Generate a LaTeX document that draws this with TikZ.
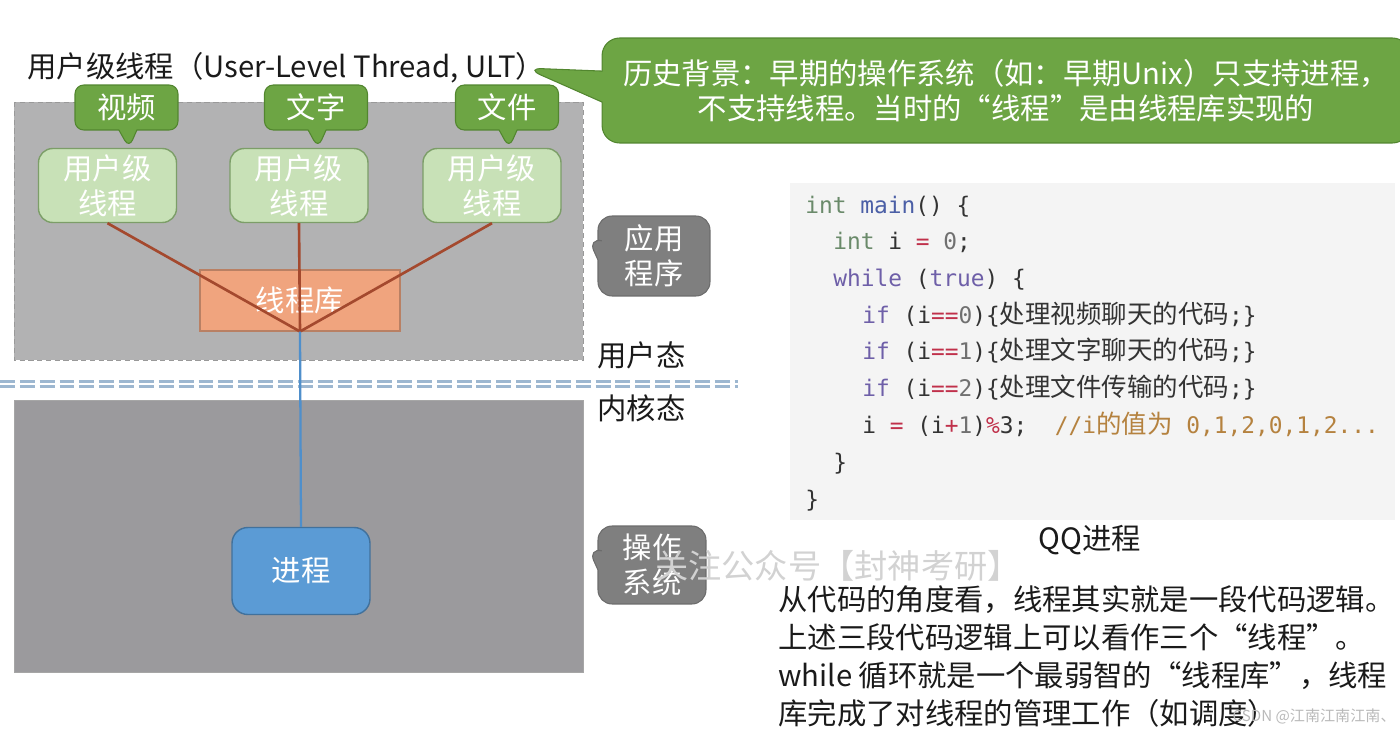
\documentclass[tikz,border=0pt]{standalone}
\usepackage{fontspec}
\setmainfont{Noto Sans CJK SC}
\setmonofont{DejaVu Sans Mono}
\newfontfamily\cjk{Noto Sans CJK SC}
\usepackage{xcolor}
\usetikzlibrary{shapes.callouts}

\definecolor{labeltext}{HTML}{1A1A1A}
\definecolor{userfill}{HTML}{B2B2B3}
\definecolor{kernfill}{HTML}{9B9A9D}
\definecolor{threadfill}{HTML}{C8E1B7}
\definecolor{threadedge}{HTML}{7C9E68}
\definecolor{taggreen}{HTML}{6DA544}
\definecolor{tagedge}{HTML}{52862F}
\definecolor{libfill}{HTML}{F0A47E}
\definecolor{libedge}{HTML}{B98064}
\definecolor{libline}{HTML}{A4492E}
\definecolor{procfill}{HTML}{5B9BD5}
\definecolor{procedge}{HTML}{41719C}
\definecolor{procline}{HTML}{4F8FCB}
\definecolor{bubblegray}{HTML}{7F7F7F}
\definecolor{bubbleedge}{HTML}{6C6C6C}
\definecolor{divblue}{HTML}{9DB7D0}
\definecolor{codebg}{HTML}{F4F4F4}
\definecolor{codetext}{HTML}{333333}
\definecolor{codetype}{HTML}{6A8A6A}
\definecolor{codefun}{HTML}{4B5FA6}
\definecolor{codekw}{HTML}{6E5FA8}
\definecolor{codeop}{HTML}{C0304A}
\definecolor{codenum}{HTML}{707070}
\definecolor{codecom}{HTML}{B5823F}

\newcommand\lblsize{\fontsize{16.7pt}{20pt}\selectfont}
\newcommand\parasize{\fontsize{16.7pt}{21.6pt}\selectfont}
\newcommand\codesize{\fontsize{13pt}{16pt}\selectfont}
\newcommand\cdtype[1]{\textcolor{codetype}{#1}}
\newcommand\cdfun[1]{\textcolor{codefun}{#1}}
\newcommand\cdkw[1]{\textcolor{codekw}{#1}}
\newcommand\cdop[1]{\textcolor{codeop}{#1}}
\newcommand\cdnum[1]{\textcolor{codenum}{#1}}
\newcommand\cdcom[1]{\textcolor{codecom}{#1}}
\newcommand\cdzh[1]{{\cjk\fontsize{14.5pt}{16pt}\selectfont #1}}

\begin{document}
\begin{tikzpicture}[x=0.02cm,y=-0.02cm,
  lbl/.style={font=\lblsize,text=labeltext,inner sep=0pt},
  threadbox/.style={draw=threadedge,fill=threadfill,line width=0.8pt,rounded corners=8pt,minimum width=2.76cm,minimum height=1.42cm,text=white,align=center,font=\lblsize},
  tagbubble/.style={rectangle callout,callout pointer width=0.36cm,fill=taggreen,draw=tagedge,line width=0.6pt,rounded corners=5pt,minimum width=2.06cm,minimum height=0.9cm,text=white,font=\lblsize},
  graybubble/.style={rectangle callout,callout pointer width=0.4cm,fill=bubblegray,draw=bubbleedge,line width=0.6pt,rounded corners=8pt,text=white,align=center,font=\lblsize},
  libbox/.style={draw=libedge,fill=libfill,line width=0.6pt,minimum width=4cm,minimum height=1.22cm,text=white,font=\lblsize},
  procbox/.style={draw=procedge,fill=procfill,line width=0.8pt,rounded corners=9pt,minimum width=2.76cm,minimum height=1.74cm,text=white,font=\lblsize},
  libwire/.style={draw=libline,line width=1.5pt},
  procwire/.style={draw=procline,line width=1.3pt},
  divline/.style={draw=divblue,line width=1.2pt,dash pattern=on 8.5pt off 2.8pt},
  codeline/.style={anchor=west,inner sep=0pt,font=\codesize\ttfamily,text=codetext,text height=10pt,text depth=3pt}]
  \useasboundingbox (0,0) rectangle (1400,730);
  \clip (0,0) rectangle (1400,730);

  \fill[userfill,draw=gray!80,densely dashed,line width=0.3pt] (14,102) rectangle (583,360);
  \fill[kernfill,draw=gray!70,line width=0.3pt] (14,400) rectangle (583,672);
  \draw[divline] (0,381.5) -- (738,381.5);
  \draw[divline] (0,386.5) -- (738,386.5);

  \node[lbl,anchor=west] (title) at (27,68) {用户级线程（User-Level Thread, ULT）};

  \node[threadbox] (t1) at (107.5,185.5) {用户级\\线程};
  \node[threadbox] (t2) at (299,185.5) {用户级\\线程};
  \node[threadbox] (t3) at (492,185.5) {用户级\\线程};
  \node[tagbubble,callout absolute pointer={(129,148)}] (tag1) at (126.5,107.5) {视频};
  \node[tagbubble,callout absolute pointer={(318,148)}] (tag2) at (316,107.5) {文字};
  \node[tagbubble,callout absolute pointer={(509,148)}] (tag3) at (507,107.5) {文件};

  \node[libbox] (lib) at (300,300.5) {线程库};
  \node[procbox] (proc) at (301,571) {进程};
  \coordinate (hub) at (lib.south);
  \draw[libwire] (t1.south) -- (hub);
  \draw[libwire] (t2.south) -- (hub);
  \draw[libwire] (t3.south) -- (hub);
  \draw[procwire] (hub) -- (proc.north);

  \node[graybubble,minimum width=2.24cm,minimum height=1.6cm,callout absolute pointer={(588,238)}] (app) at (654,256) {应用\\程序};
  \node[graybubble,minimum width=2.16cm,minimum height=1.56cm,callout absolute pointer={(588,548)}] (os) at (652,565) {操作\\系统};
  \node[lbl,anchor=west] (ustate) at (597,355) {用户态};
  \node[lbl,anchor=west] (kstate) at (597,408) {内核态};

  \node[rectangle callout,callout pointer width=0.62cm,fill=taggreen,draw=tagedge,line width=0.6pt,rounded corners=10pt,minimum width=16.16cm,minimum height=2.1cm,text=white,align=center,font=\lblsize,callout absolute pointer={(525,68)}] (history) at (1006,90.5) {历史背景：早期的操作系统（如：早期Unix）只支持进程，\\不支持线程。当时的“线程”是由线程库实现的};

  \fill[codebg] (790,183) rectangle (1395,520);
  \node[codeline] (code1) at (805,207) {\cdtype{int} \cdfun{main}() \{};
  \node[codeline] (code2) at (833,243) {\cdtype{int} i \cdop{=} \cdnum{0};};
  \node[codeline] (code3) at (833,280) {\cdkw{while} (\cdkw{true}) \{};
  \node[codeline] (code4) at (862,317) {\cdkw{if} (i\cdop{==}\cdnum{0})\{\cdzh{处理视频聊天的代码};\}};
  \node[codeline] (code5) at (862,353) {\cdkw{if} (i\cdop{==}\cdnum{1})\{\cdzh{处理文字聊天的代码};\}};
  \node[codeline] (code6) at (862,390) {\cdkw{if} (i\cdop{==}\cdnum{2})\{\cdzh{处理文件传输的代码};\}};
  \node[codeline] (code7) at (862,427) {i \cdop{=} (i\cdop{+}\cdnum{1})\cdop{\%}3;~~\cdcom{//i\cdzh{的值为} 0,1,2,0,1,2...}};
  \node[codeline] (code8) at (833,464) {\}};
  \node[codeline] (code9) at (805,501) {\}};
  \node[lbl] (qq) at (1090,540) {QQ进程};

  \node[lbl,font=\fontsize{18.9pt}{22pt}\selectfont,text=gray!35] (wmark) at (838,566) {关注公众号【封神考研】};
  \node[lbl,font=\parasize,anchor=north west,align=left] (explain) at (778,585) {从代码的角度看，线程其实就是一段代码逻辑。\\上述三段代码逻辑上可以看作三个“线程”。\\while 循环就是一个最弱智的“线程库”，线程\\库完成了对线程的管理工作（如调度）};
  \node[lbl,font=\fontsize{8.6pt}{10pt}\selectfont,text=gray!55,anchor=east] (csdn) at (1396,716) {CSDN @江南江南江南、};
\end{tikzpicture}
\end{document}
